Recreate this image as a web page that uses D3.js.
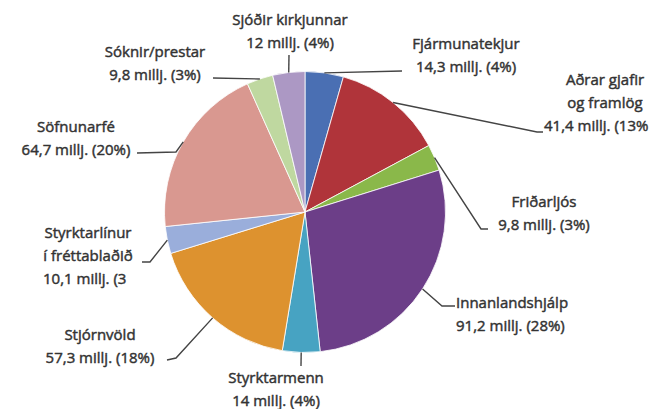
<!DOCTYPE html>
<html>
<head>
<meta charset="utf-8">
<script src="https://cdn.jsdelivr.net/npm/d3@7"></script>
<style>
  html, body { margin: 0; padding: 0; background: #fff; }
  svg { display: block; }
</style>
</head>
<body>
<div id="chart"></div>
<script>
// ---------- data ----------
var categories = ['Fjármunatekjur', 'Aðrar gjafir og framlög', 'Friðarljós', 'Innanlandshjálp', 'Styrktarmenn',
  'Stjórnvöld', 'Styrktarlínur í fréttablaðið', 'Söfnunarfé', 'Sóknir/prestar', 'Sjóðir kirkjunnar'];
var values = [14.3, 41.4, 9.8, 91.2, 14, 57.3, 10.1, 64.7, 9.8, 12];
var nameLines = [['Fjármunatekjur'], ['Aðrar gjafir', 'og framlög'], ['Friðarljós'], ['Innanlandshjálp'], ['Styrktarmenn'],
  ['Stjórnvöld'], ['Styrktarlínur', 'í fréttablaðið'], ['Söfnunarfé'], ['Sóknir/prestar'], ['Sjóðir kirkjunnar']];
var valueLabels = ['14,3 millj. (4%)', '41,4 millj. (13%', '9,8 millj. (3%)', '91,2 millj. (28%)', '14 millj. (4%)',
  '57,3 millj. (18%)', '10,1 millj. (3', '64,7 millj. (20%)', '9,8 millj. (3%)', '12 millj. (4%)'];
var colors = ['#4a6fb3', '#b0343a', '#8ab84a', '#6c3e88', '#47a3c2', '#dd922f', '#9aaedb', '#d99890', '#bfd8a0', '#ac98c4'];

// ---------- layout (label boxes + leader elbows) ----------
// x/y = first line centre, a = anchor, vx = left edge of the value line when it differs, pts = leader points after the rim
var LAY = [
  { x: 466, y: 44, a: 'middle', pts: [[402, 71]] },
  { x: 605, y: 80, a: 'middle', vx: 544, pts: [[537, 132], [543, 132]] },
  { x: 544, y: 202, a: 'middle', pts: [[481, 229], [488, 229]] },
  { x: 456, y: 303, a: 'start', pts: [[442, 306], [455, 306]] },
  { x: 276, y: 378, a: 'middle', pts: [[301, 366]] },
  { x: 100, y: 335, a: 'middle', pts: [[176, 358], [167, 360]] },
  { x: 88, y: 233, a: 'middle', vx: 43, pts: [[150, 262], [142, 262]] },
  { x: 76, y: 127, a: 'middle', pts: [[176, 152], [137, 153]] },
  { x: 155, y: 52, a: 'middle', pts: [[213, 78]] },
  { x: 290, y: 20, a: 'middle', pts: [[289, 55]] }
];

(function () {
  var W = 668, H = 409, CX = 305, CY = 212, R = 140.5, LH = 23;
  var INK = '#333';
  var svg = d3.select('#chart').append('svg').attr('width', W).attr('height', H).attr('viewBox', '0 0 ' + W + ' ' + H);

  var pie = d3.pie().sort(null).value(function (d) { return d; });
  var arcs = pie(values);
  var arc = d3.arc().innerRadius(0).outerRadius(R);

  var g = svg.append('g').attr('transform', 'translate(' + CX + ',' + CY + ')');
  g.selectAll('path').data(arcs).join('path')
    .attr('d', arc)
    .attr('fill', function (d, i) { return colors[i]; })
    .attr('stroke', '#fff').attr('stroke-width', 0.8);

  // leader lines start on the rim at each slice's mid angle
  var gLead = svg.append('g');
  arcs.forEach(function (d, i) {
    var m = (d.startAngle + d.endAngle) / 2;
    var p0 = [CX + R * Math.sin(m), CY - R * Math.cos(m)];
    gLead.append('path').attr('d', d3.line()([p0].concat(LAY[i].pts)))
      .attr('fill', 'none').attr('stroke', '#444').attr('stroke-width', 1.4);
  });

  var gTxt = svg.append('g').attr('font-family', '"Open Sans", "Noto Sans", sans-serif').attr('font-size', 15)
    .attr('fill', INK).attr('stroke', INK).attr('stroke-width', 0.45);
  categories.forEach(function (c, i) {
    var L = LAY[i];
    var lines = nameLines[i];
    lines.forEach(function (t, k) {
      gTxt.append('text').attr('x', L.x).attr('y', L.y + k * LH).attr('dy', '.36em').attr('text-anchor', L.a).text(t);
    });
    var vt = gTxt.append('text').attr('y', L.y + lines.length * LH).attr('dy', '.36em').text(valueLabels[i]);
    if (L.vx != null) vt.attr('x', L.vx).attr('text-anchor', 'start');
    else vt.attr('x', L.x).attr('text-anchor', L.a);
  });
})();
</script>
</body>
</html>
